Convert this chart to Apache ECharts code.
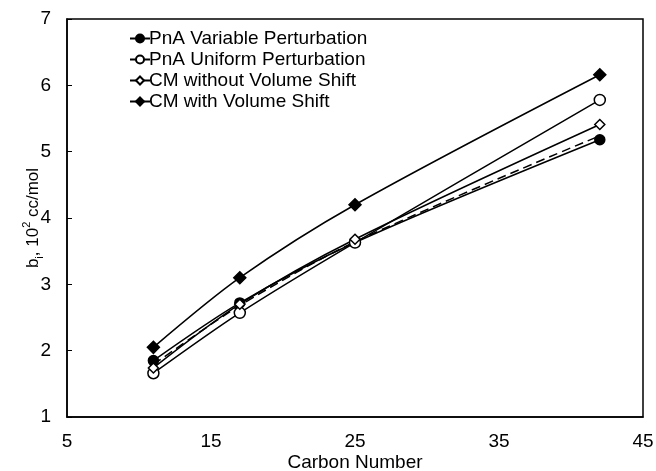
<!DOCTYPE html>
<html><head><meta charset="utf-8">
<script src="https://cdn.jsdelivr.net/npm/echarts@6/dist/echarts.min.js"></script>
<style>html,body{margin:0;padding:0;background:#fff}#c{width:656px;height:471px}</style>
</head><body><div id="c"></div>
<script>
var carbonNumbers = [11, 17, 25, 42];
var pnaVariable = [1.85, 2.72, 3.63, 5.18];
var pnaUniform = [1.66, 2.57, 3.63, 5.78];
var cmWithout = [1.74, 2.70, 3.68, 5.41];
var cmWith = [2.05, 3.10, 4.20, 6.16];
var dashedRef = [1.79, 2.68, 3.64, 5.24];
var seriesNames = ['PnA Variable Perturbation', 'PnA Uniform Perturbation', 'CM without Volume Shift', 'CM with Volume Shift'];
var xTicks = [5, 15, 25, 35, 45];
var yTicks = [1, 2, 3, 4, 5, 6, 7];

function pts(v){ return carbonNumbers.map(function(x,i){ return [x, v[i]]; }); }
var FONT = 'Liberation Sans, Arial, sans-serif';
var chart = echarts.init(document.getElementById('c'));
function mk(name, data, symbol, size, fill){
  return {name:name, type:'line', data:pts(data), smooth:0.3, symbol:symbol, symbolSize:size,
    showSymbol:true, z:3,
    lineStyle:{color:'#000', width:1.5},
    itemStyle:{color:fill, borderColor:'#000', borderWidth:1.5}};
}
chart.setOption({
  animation:false,
  grid:{left:67, right:13, top:19, bottom:54, show:true, borderColor:'#000', borderWidth:1.5, backgroundColor:'transparent',
    containLabel:false, outerBoundsMode:'none'},
  legend:{orient:'vertical', left:124, top:24, itemWidth:20, itemHeight:10, itemGap:2,
    data:seriesNames,
    textStyle:{fontFamily:FONT, fontSize:19, lineHeight:19, color:'#000', padding:[0,0,0,-6]}},
  xAxis:{type:'value', min:5, max:45, interval:10,
    name:'Carbon Number', nameLocation:'middle', nameGap:36, nameMoveOverlap:false,
    nameTextStyle:{fontFamily:FONT, fontSize:19, color:'#000'},
    axisLine:{lineStyle:{color:'#000', width:1.5}},
    axisTick:{show:false},
    splitLine:{show:false},
    axisLabel:{fontFamily:FONT, fontSize:19, color:'#000', margin:15}},
  yAxis:{type:'value', min:1, max:7, interval:1,
    name:'{a|b}{s|i}{a|, 10}{p|2}{a| cc/mol}', nameLocation:'middle', nameGap:24, nameRotate:90, nameMoveOverlap:false,
    nameTextStyle:{fontFamily:FONT, fontSize:17, color:'#000',
      rich:{a:{fontFamily:FONT, fontSize:17, color:'#000', lineHeight:20, verticalAlign:'middle'},
            s:{fontFamily:FONT, fontSize:11, color:'#000', lineHeight:20, verticalAlign:'bottom', padding:[0,0,-2,0]},
            p:{fontFamily:FONT, fontSize:11, color:'#000', lineHeight:20, verticalAlign:'top', padding:[-2,0,0,0]}}},
    axisLine:{lineStyle:{color:'#000', width:1.5}},
    axisTick:{show:true, inside:true, length:5, lineStyle:{color:'#000', width:1}},
    splitLine:{show:false},
    axisLabel:{fontFamily:FONT, fontSize:19, color:'#000', margin:16}},
  series:[
    mk(seriesNames[0], pnaVariable, 'circle', 10, '#000'),
    mk(seriesNames[1], pnaUniform, 'circle', 11, '#fff'),
    mk(seriesNames[2], cmWithout, 'diamond', 10, '#fff'),
    mk(seriesNames[3], cmWith, 'diamond', 12, '#000'),
    {name:'ref', type:'line', data:pts(dashedRef), smooth:0.3, symbol:'none', z:2,
     lineStyle:{color:'#000', width:1.5, type:[9,5]}}
  ]
});
</script></body></html>
